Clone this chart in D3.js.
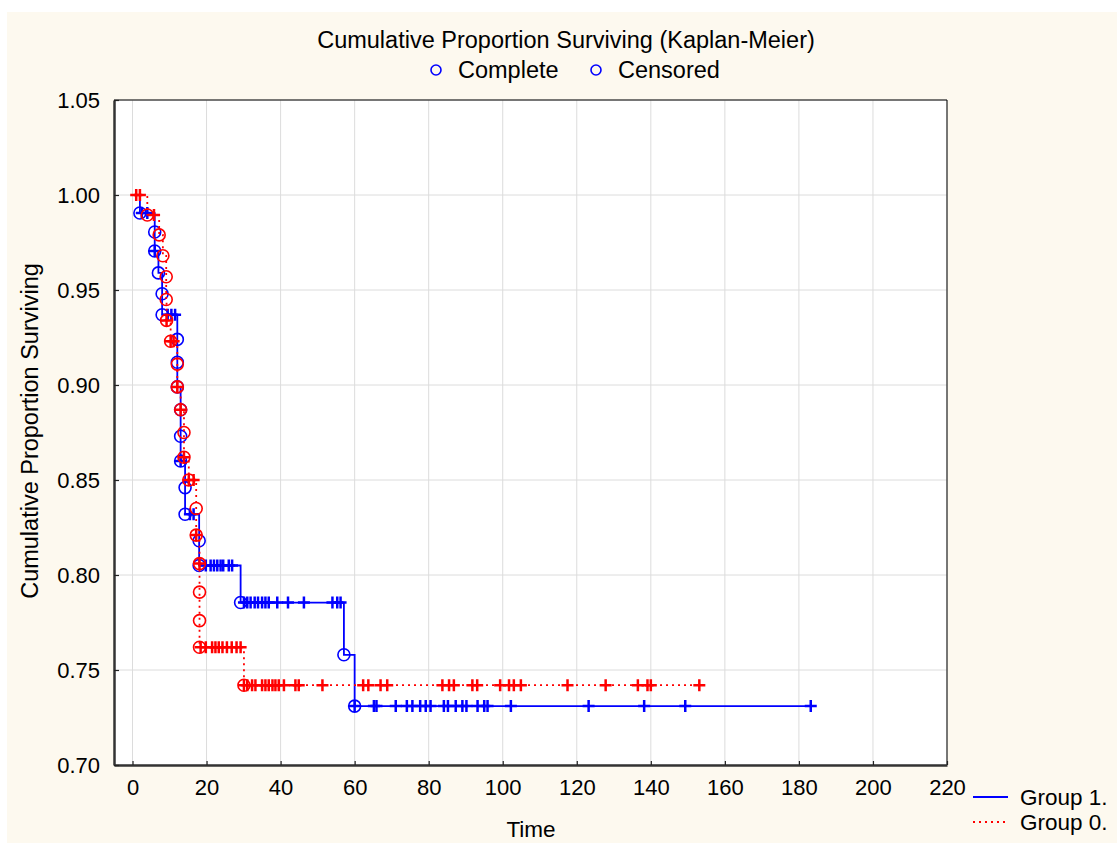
<!DOCTYPE html>
<html>
<head>
<meta charset="utf-8">
<script src="https://cdn.jsdelivr.net/npm/d3@7"></script>
<style>
  body { margin: 0; background: #ffffff; }
  svg { display: block; font-family: "Liberation Sans", Arial, sans-serif; }
</style>
</head>
<body>
<svg id="chart" width="1117" height="844"></svg>
<script>
// tick values
const xTicks = [0, 20, 40, 60, 80, 100, 120, 140, 160, 180, 200, 220];
const yTicks = [0.70, 0.75, 0.80, 0.85, 0.90, 0.95, 1.00, 1.05];

// Group 1 (blue): start point, complete (event) marks, censored marks  [time, proportion]
const g1Start = [2, 1.0];
const g1Events = [[2, .9905], [6, .9805], [6, .9705], [7, .959], [8, .948], [8, .937],
  [12.1, .924], [12.1, .912], [12.1, .899], [13, .887], [13, .873], [13, .860],
  [14.2, .846], [14.2, .832], [18, .818], [18, .805], [29.2, .7855], [57.1, .758], [60, .731]];
const g1Cens = [[2.5, .9905], [4, .9905], [6, .9705], [9.5, .937], [10.5, .937], [11.5, .937],
  [13, .860], [15.5, .832], [16.5, .832],
  [19.8, .805], [21.1, .805], [22, .805], [22.9, .805], [23.8, .805], [24.5, .805], [26, .805], [26.9, .805],
  [30.1, .7855], [31, .7855], [31.9, .7855], [33, .7855], [33.9, .7855], [35, .7855], [35.9, .7855],
  [36.8, .7855], [39.1, .7855], [42, .7855], [46.3, .7855], [54, .7855], [55.3, .7855], [56.2, .7855],
  [60, .731], [65.2, .731], [65.9, .731], [71.1, .731], [74.1, .731], [75.6, .731], [77.7, .731],
  [79.2, .731], [80.5, .731], [84.1, .731], [85.2, .731], [87.3, .731], [89.1, .731], [90.2, .731],
  [93.2, .731], [95, .731], [95.9, .731], [102.2, .731], [123.2, .731], [138.2, .731], [149.3, .731],
  [183.2, .731]];

// Group 0 (red)
const g0Start = [1, 1.0];
const g0Events = [[4, .9895], [7.2, .979], [8.2, .968], [9.1, .957], [9.1, .945], [9.2, .934],
  [10.3, .923], [12.1, .911], [12.1, .899], [13, .887], [13.9, .875], [13.9, .862], [15.2, .850],
  [17.2, .835], [17.2, .821], [18.1, .806], [18.1, .791], [18.1, .776], [18.1, .762], [30.1, .742]];
const g0Cens = [[1, 1.0], [2, 1.0], [5.8, .9895], [9.2, .934], [10.3, .923], [11.1, .923],
  [12.1, .899], [13, .887], [13.9, .862], [15.2, .850], [16.5, .850], [17.2, .821], [18.1, .806],
  [18.4, .762], [19.8, .762], [21.5, .762], [22.4, .762], [23.3, .762], [24.3, .762], [25.5, .762],
  [26.8, .762], [28.1, .762], [29.2, .762],
  [30.1, .742], [31, .742], [32.3, .742], [33.2, .742], [35, .742], [35.9, .742], [36.8, .742],
  [37.8, .742], [38.6, .742], [39.5, .742], [40.9, .742], [44, .742], [44.9, .742], [51.3, .742],
  [62.3, .742], [63.7, .742], [67, .742], [68.8, .742], [83.7, .742], [85.5, .742], [86.8, .742],
  [91.8, .742], [93.1, .742], [99.3, .742], [101.7, .742], [103, .742], [104.9, .742], [117.5, .742],
  [127.8, .742], [136.5, .742], [139.1, .742], [140, .742], [153.1, .742]];

const groups = [
  { name: "Group 1.", color: "#0000ff", dash: null, start: g1Start, events: g1Events, cens: g1Cens },
  { name: "Group 0.", color: "#ff0000", dash: "2,4", start: g0Start, events: g0Events, cens: g0Cens }
];

const margin = { top: 100, right: 170, bottom: 79, left: 114 },
  width = 1117 - margin.left - margin.right,
  height = 844 - margin.top - margin.bottom;

const svg = d3.select("#chart");

// cream page background
svg.append("rect")
  .attr("x", 7).attr("y", 12)
  .attr("width", 1110).attr("height", 831)
  .attr("fill", "#fdf9ef");

const x = d3.scaleLinear().domain([-5, 220]).range([0, width]);
const y = d3.scaleLinear().domain([0.70, 1.05]).range([height, 0]);

const g = svg.append("g")
  .attr("transform", "translate(" + margin.left + "," + margin.top + ")");

g.append("rect")
  .attr("width", width).attr("height", height)
  .attr("fill", "#ffffff");

// grid lines
g.append("g").selectAll("line")
  .data(xTicks).enter().append("line")
  .attr("x1", d => x(d)).attr("x2", d => x(d))
  .attr("y1", 0).attr("y2", height)
  .attr("stroke", "#dcdcdc").attr("stroke-width", 1);
g.append("g").selectAll("line")
  .data(yTicks).enter().append("line")
  .attr("x1", 0).attr("x2", width)
  .attr("y1", d => y(d)).attr("y2", d => y(d))
  .attr("stroke", "#dcdcdc").attr("stroke-width", 1);

// frame top / right
g.append("path")
  .attr("d", `M0,0H${width}V${height}`)
  .attr("fill", "none").attr("stroke", "#000").attr("stroke-width", 1);

// axes
const xAxis = g.append("g")
  .attr("transform", "translate(0," + height + ")")
  .call(d3.axisBottom(x).tickValues(xTicks).tickSize(-4).tickSizeOuter(0).tickPadding(14));
const yAxis = g.append("g")
  .call(d3.axisLeft(y).tickValues(yTicks).tickFormat(d3.format(".2f")).tickSize(-5).tickSizeOuter(0).tickPadding(14));

[xAxis, yAxis].forEach(a => {
  a.attr("font-family", null).attr("font-size", 22);
  a.selectAll("text").attr("fill", "#000");
  a.selectAll(".tick line").attr("stroke", "#222").attr("stroke-width", 1.2);
  a.select(".domain").attr("stroke", "#333").attr("stroke-width", 2.5);
});

// step curves
const line = d3.line()
  .x(d => x(d[0]))
  .y(d => y(d[1]))
  .curve(d3.curveStepAfter);

groups.forEach(grp => {
  const last = grp.cens[grp.cens.length - 1];
  const pts = [grp.start].concat(grp.events).concat([[last[0], grp.events[grp.events.length - 1][1]]]);
  const layer = g.append("g");

  layer.append("path")
    .attr("d", line(pts))
    .attr("fill", "none")
    .attr("stroke", grp.color)
    .attr("stroke-width", 1.8)
    .attr("stroke-dasharray", grp.dash);

  // complete = circles
  layer.selectAll(".ev")
    .data(grp.events).enter().append("circle")
    .attr("class", "ev")
    .attr("cx", d => x(d[0])).attr("cy", d => y(d[1]))
    .attr("r", 6)
    .attr("fill", "none")
    .attr("stroke", grp.color)
    .attr("stroke-width", 1.6);

  // censored = plus
  layer.selectAll(".ce")
    .data(grp.cens).enter().append("path")
    .attr("class", "ce")
    .attr("d", d => {
      const cx = x(d[0]), cy = y(d[1]);
      return `M${cx - 6},${cy}H${cx + 6}M${cx},${cy - 6}V${cy + 6}`;
    })
    .attr("fill", "none")
    .attr("stroke", grp.color)
    .attr("stroke-width", 2.5);
});

// title and top legend
svg.append("text")
  .attr("x", 566).attr("y", 48)
  .attr("text-anchor", "middle")
  .attr("font-size", 23.5)
  .text("Cumulative Proportion Surviving (Kaplan-Meier)");

const topLegend = [{ label: "Complete", cx: 436 }, { label: "Censored", cx: 596 }];
topLegend.forEach(t => {
  svg.append("circle")
    .attr("cx", t.cx).attr("cy", 70).attr("r", 5)
    .attr("fill", "none").attr("stroke", "#0000ff").attr("stroke-width", 1.6);
  svg.append("text")
    .attr("x", t.cx + 22).attr("y", 78)
    .attr("font-size", 23.5)
    .text(t.label);
});

// axis titles
svg.append("text")
  .attr("x", 531).attr("y", 837)
  .attr("text-anchor", "middle")
  .attr("font-size", 22.5)
  .text("Time");

svg.append("text")
  .attr("transform", "translate(38,431) rotate(-90)")
  .attr("text-anchor", "middle")
  .attr("font-size", 23.5)
  .text("Cumulative Proportion Surviving");

// group legend (bottom right)
groups.forEach((grp, i) => {
  const ly = 797 + i * 25;
  svg.append("line")
    .attr("x1", 973).attr("x2", 1008)
    .attr("y1", ly).attr("y2", ly)
    .attr("stroke", grp.color).attr("stroke-width", 1.8)
    .attr("stroke-dasharray", grp.dash);
  svg.append("text")
    .attr("x", 1020).attr("y", ly + 8)
    .attr("font-size", 22.5)
    .text(grp.name);
});
</script>
</body>
</html>
